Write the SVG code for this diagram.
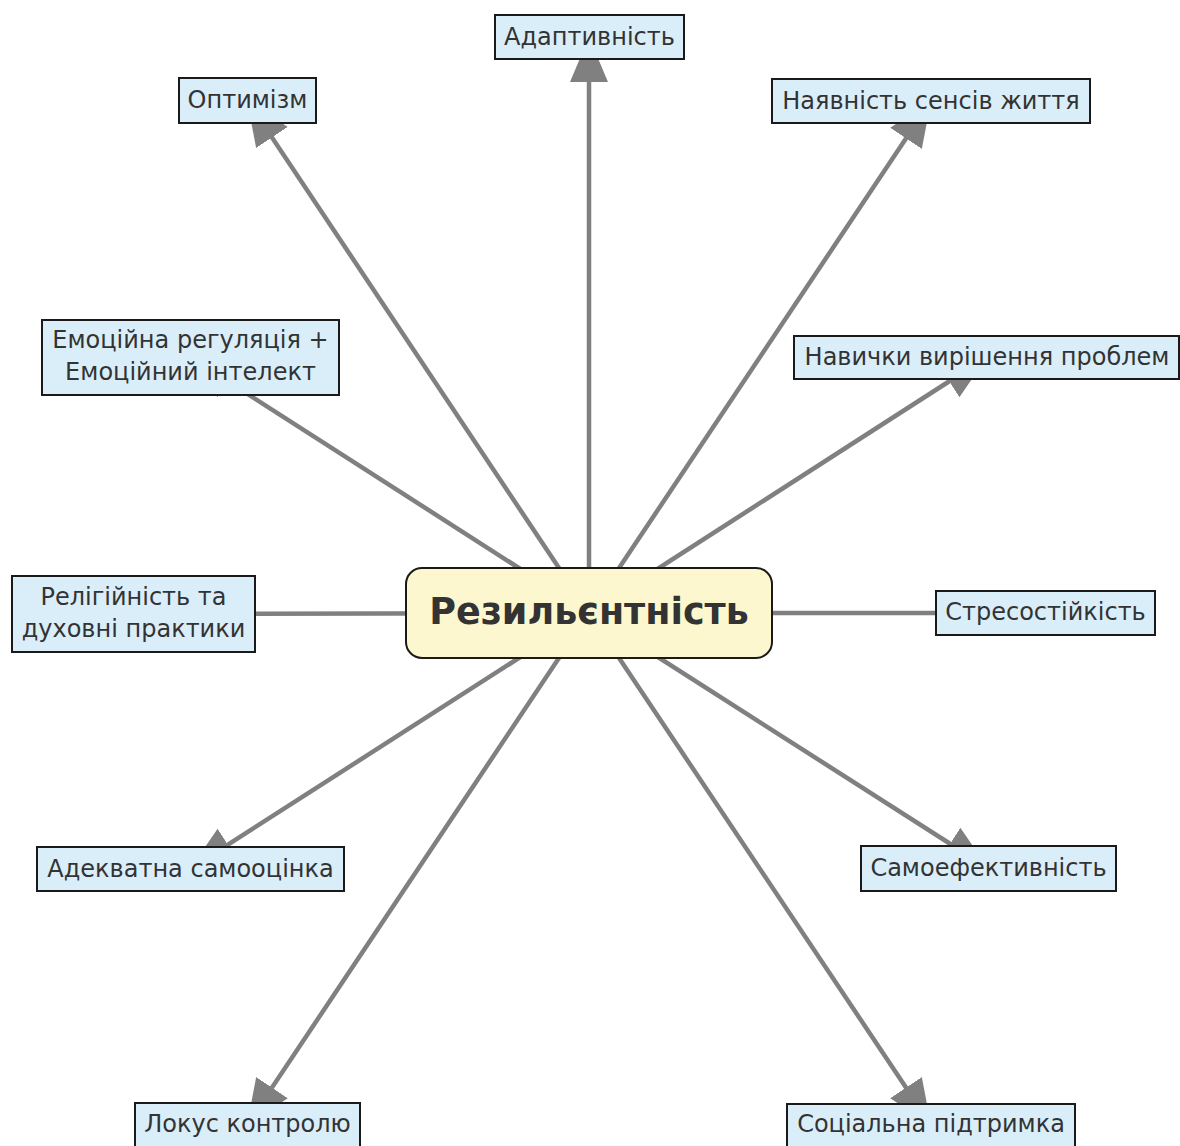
<svg xmlns="http://www.w3.org/2000/svg" width="1180" height="1146" viewBox="0 0 1180 1146">
<style>
.edge{stroke:#808080;stroke-width:4.5;fill:none;marker-end:url(#ah)}
.box{fill:#daeefa;stroke:#1a1a1a;stroke-width:2}
.lbl{font-family:"DejaVu Sans",sans-serif;font-size:24px;fill:#333333;text-anchor:middle;dominant-baseline:central}
.main{fill:#fdf7cf;stroke:#1a1a1a;stroke-width:2}
.mainlbl{font-family:"DejaVu Sans",sans-serif;font-size:36.5px;font-weight:bold;fill:#333333;text-anchor:middle;dominant-baseline:central}
</style>
<defs>
<marker id="ah" markerUnits="userSpaceOnUse" markerWidth="46" markerHeight="42" viewBox="0 -21 46 42" refX="45" refY="0" orient="auto">
<path d="M0,-19 L45,0 L0,19 z" fill="#808080"/>
</marker>
</defs>
<rect width="1180" height="1146" fill="#ffffff"/>
<g id="connectors">
<line class="edge" x1="589" y1="613" x2="589" y2="37"/>
<line class="edge" x1="589" y1="613" x2="247" y2="100"/>
<line class="edge" x1="589" y1="613" x2="931" y2="101"/>
<line class="edge" x1="589" y1="613" x2="190" y2="357"/>
<line class="edge" x1="589" y1="613" x2="987" y2="357"/>
<line class="edge" x1="589" y1="613" x2="133" y2="614"/>
<line class="edge" x1="589" y1="613" x2="1045" y2="613"/>
<line class="edge" x1="589" y1="613" x2="190" y2="869"/>
<line class="edge" x1="589" y1="613" x2="988" y2="868"/>
<line class="edge" x1="589" y1="613" x2="247" y2="1125"/>
<line class="edge" x1="589" y1="613" x2="931" y2="1125"/>
</g>
<g id="n-adapt"><rect class="box" x="495" y="15" width="189" height="44"/><text class="lbl" x="589.5" y="37">Адаптивність</text></g>
<g id="n-optim"><rect class="box" x="179" y="78" width="137" height="45"/><text class="lbl" x="247.5" y="100">Оптимізм</text></g>
<g id="n-sens"><rect class="box" x="772" y="79" width="318" height="44"/><text class="lbl" x="931" y="101">Наявність сенсів життя</text></g>
<g id="n-emo"><rect class="box" x="42" y="320" width="297" height="75"/><text class="lbl" x="190.5" y="340">Емоційна регуляція +</text><text class="lbl" x="190.5" y="372">Емоційний інтелект</text></g>
<g id="n-skills"><rect class="box" x="794" y="336" width="385" height="43"/><text class="lbl" x="987" y="357">Навички вирішення проблем</text></g>
<g id="n-relig"><rect class="box" x="12" y="576" width="243" height="76"/><text class="lbl" x="133.5" y="597">Релігійність та</text><text class="lbl" x="133.5" y="629">духовні практики</text></g>
<g id="n-main"><rect class="main" x="406" y="568" width="366" height="90" rx="16" ry="16"/><text class="mainlbl" x="589" y="611">Резильєнтність</text></g>
<g id="n-stress"><rect class="box" x="936" y="591" width="219" height="44"/><text class="lbl" x="1045.5" y="612">Стресостійкість</text></g>
<g id="n-self"><rect class="box" x="37" y="847" width="307" height="44"/><text class="lbl" x="190.5" y="869">Адекватна самооцінка</text></g>
<g id="n-eff"><rect class="box" x="861" y="846" width="255" height="45"/><text class="lbl" x="988.5" y="868">Самоефективність</text></g>
<g id="n-locus"><rect class="box" x="135" y="1103" width="225" height="50"/><text class="lbl" x="247.5" y="1124">Локус контролю</text></g>
<g id="n-social"><rect class="box" x="787" y="1104" width="288" height="50"/><text class="lbl" x="931" y="1124">Соціальна підтримка</text></g>
</svg>
